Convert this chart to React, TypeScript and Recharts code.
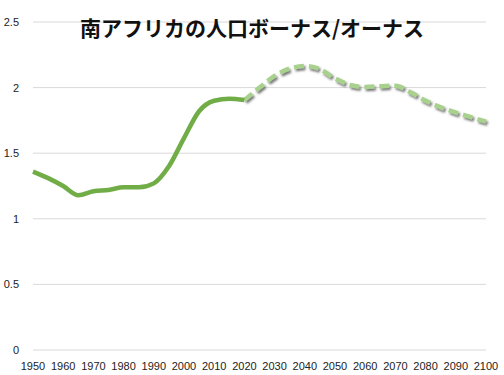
import { LineChart, Line, XAxis, YAxis, CartesianGrid } from 'recharts';

const years = [
  1950, 1955, 1960, 1965, 1970, 1975, 1980, 1985, 1990, 1995, 2000, 2005, 2010, 2015, 2020,
  2025, 2030, 2035, 2040, 2045, 2050, 2055, 2060, 2065, 2070, 2075, 2080, 2085, 2090, 2095, 2100,
];
const actual = [
  1.36, 1.31, 1.25, 1.18, 1.21, 1.22, 1.24, 1.24, 1.27, 1.4, 1.615, 1.82, 1.9, 1.915, 1.905,
];
const projected = [
  1.905, 2.0, 2.09, 2.145, 2.165, 2.14, 2.07, 2.02, 2.005, 2.01, 2.015, 1.965, 1.9, 1.85, 1.81,
  1.775, 1.74,
];
const xTicks = [1950, 1960, 1970, 1980, 1990, 2000, 2010, 2020, 2030, 2040, 2050, 2060, 2070, 2080, 2090, 2100];
const yTicks = [0, 0.5, 1, 1.5, 2, 2.5];

const data = years.map((year, i) => ({
  year,
  actual: i < actual.length ? actual[i] : null,
  projected: i >= actual.length - 1 ? projected[i - (actual.length - 1)] : null,
}));

const tickStyle = { fontSize: 11, fill: '#222', fontFamily: '"Liberation Sans", Arial, sans-serif' };

export default function App() {
  return (
    <div style={{ position: 'fixed', left: 0, top: 0, width: 504, height: 375, background: '#fff' }}>
      <LineChart width={504} height={375} data={data} margin={{ top: 22, right: 18, bottom: 0, left: 0 }}>
        <defs>
          <filter id="shadow" x="-10%" y="-20%" width="120%" height="150%">
            <feDropShadow dx="1.5" dy="2" stdDeviation="1.2" floodColor="#555" floodOpacity="0.8" />
          </filter>
        </defs>
        <CartesianGrid vertical={false} stroke="#d9d9d9" />
        <XAxis
          dataKey="year"
          type="number"
          domain={[1950, 2100]}
          ticks={xTicks}
          interval={0}
          axisLine={false}
          tickLine={false}
          tickMargin={6}
          height={25}
          tick={tickStyle}
        />
        <YAxis
          domain={[0, 2.5]}
          ticks={yTicks}
          axisLine={false}
          tickLine={false}
          tickMargin={8}
          width={33}
          tick={tickStyle}
        />
        <Line
          dataKey="projected"
          type="monotone"
          stroke="#a9d18e"
          strokeWidth={4.5}
          strokeDasharray="10 5"
          dot={false}
          connectNulls={false}
          filter="url(#shadow)"
          isAnimationActive={false}
        />
        <Line
          dataKey="actual"
          type="monotone"
          stroke="#70ad47"
          strokeWidth={4.5}
          dot={false}
          connectNulls={false}
          isAnimationActive={false}
        />
      </LineChart>
      <div
        style={{
          position: 'absolute',
          left: 0,
          width: 504,
          top: 14,
          textAlign: 'center',
          fontSize: 21,
          fontWeight: 'bold',
          fontFamily: '"Noto Sans CJK JP", sans-serif',
          color: '#111',
          lineHeight: '26px',
        }}
      >
        南アフリカの人口ボーナス/オーナス
      </div>
    </div>
  );
}
